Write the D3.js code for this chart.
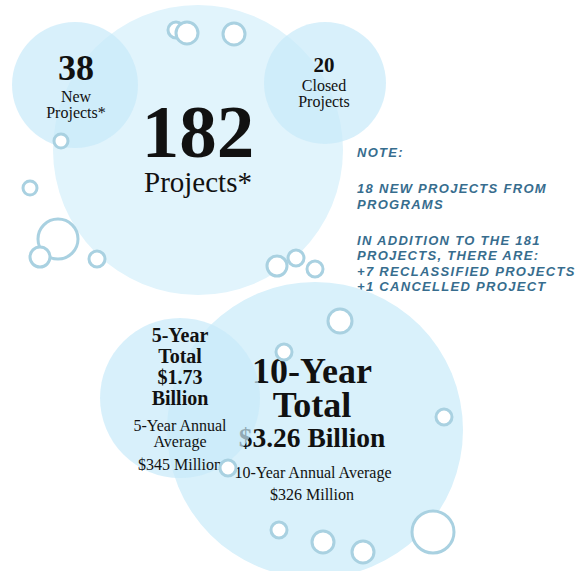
<!DOCTYPE html>
<html>
<head>
<meta charset="utf-8">
<script src="https://cdn.jsdelivr.net/npm/d3@7"></script>
<style>
  body { margin: 0; background: #fff; }
  svg { display: block; }
  .serif { font-family: "Liberation Serif", "DejaVu Serif", serif; fill: #111; }
  .note { font-family: "Liberation Sans", Arial, sans-serif; font-style: italic; font-weight: bold; fill: #376d8e; }
</style>
</head>
<body>
<svg class="chart" width="587" height="571"></svg>
<script>
// values
const projectCounts = [182, 38, 20];
const projectLabels = ["Projects*", "New|Projects*", "Closed|Projects"];
const fiveYear = { total: "$1.73", avg: "$345 Million" };
const tenYear = { total: "$3.26 Billion", avg: "$326 Million" };
const noteLines = ["NOTE:", "", "18 NEW PROJECTS FROM", "PROGRAMS", "",
  "IN ADDITION TO THE 181", "PROJECTS, THERE ARE:", "+7 RECLASSIFIED PROJECTS", "+1 CANCELLED PROJECT"];

// layout (x, y, r) of the big circles
const projectCircles = [[198, 150, 145], [75, 85, 63], [325, 83, 61]];
const costCircles = [[315, 430, 148], [180, 398, 80]];
// decorative bubbles
const bubbles = [
  [176, 30, 8], [187, 33, 11], [234, 34, 11], [61, 141, 7], [30, 188, 7],
  [58, 239, 20], [40, 257, 10], [97, 259, 8], [277, 266, 10], [296, 258, 8],
  [315, 269, 8], [340, 321, 12], [284, 352, 8], [228, 468, 8], [444, 417, 8],
  [279, 530, 8], [323, 542, 11], [363, 552, 11], [433, 532, 21]
];

const svg = d3.select(".chart");

// project circles
svg.selectAll(".pc")
  .data(projectCircles)
  .enter().append("circle")
  .attr("class", "pc")
  .attr("cx", d => d[0]).attr("cy", d => d[1]).attr("r", d => d[2])
  .attr("fill", (d, i) => i === 0 ? "#e1f4fc" : "#c8eaf9")
  .attr("fill-opacity", (d, i) => i === 0 ? 1 : 0.7);

const g182 = svg.append("g").attr("class", "serif").attr("text-anchor", "middle");
g182.append("text").attr("x", 198).attr("y", 157)
  .attr("font-size", 75).attr("font-weight", "bold").text(projectCounts[0]);
g182.append("text").attr("x", 198).attr("y", 192)
  .attr("font-size", 29).text(projectLabels[0]);

const g38 = svg.append("g").attr("class", "serif").attr("text-anchor", "middle");
g38.append("text").attr("x", 76).attr("y", 80)
  .attr("font-size", 36).attr("font-weight", "bold").text(projectCounts[1]);
projectLabels[1].split("|").forEach((s, i) => {
  g38.append("text").attr("x", 76).attr("y", 102 + i * 16).attr("font-size", 16).text(s);
});

const g20 = svg.append("g").attr("class", "serif").attr("text-anchor", "middle");
g20.append("text").attr("x", 324).attr("y", 72)
  .attr("font-size", 21).attr("font-weight", "bold").text(projectCounts[2]);
projectLabels[2].split("|").forEach((s, i) => {
  g20.append("text").attr("x", 324).attr("y", 91 + i * 16).attr("font-size", 16).text(s);
});

// note
const note = svg.append("g").attr("class", "note");
let ny = 157, gap = false;
noteLines.forEach((s, i) => {
  if (s === "") { gap = true; return; }
  if (i > 0) ny += gap ? 36 : 15.6;
  gap = false;
  note.append("text").attr("x", 357).attr("y", ny)
    .attr("font-size", 13).attr("letter-spacing", 1.3).text(s);
});

// 10-year
svg.append("circle")
  .attr("cx", costCircles[0][0]).attr("cy", costCircles[0][1]).attr("r", costCircles[0][2])
  .attr("fill", "#d9f1fb");
const g10 = svg.append("g").attr("class", "serif").attr("text-anchor", "middle");
g10.append("text").attr("x", 312).attr("y", 383).attr("font-size", 36).attr("font-weight", "bold").text("10-Year");
g10.append("text").attr("x", 312).attr("y", 417).attr("font-size", 36).attr("font-weight", "bold").text("Total");
g10.append("text").attr("x", 312).attr("y", 447).attr("font-size", 27.5).attr("font-weight", "bold").text(tenYear.total);
g10.append("text").attr("x", 313).attr("y", 478).attr("font-size", 16).text("10-Year Annual Average");
g10.append("text").attr("x", 312).attr("y", 500).attr("font-size", 16).text(tenYear.avg);

// 5-year
svg.append("circle")
  .attr("cx", costCircles[1][0]).attr("cy", costCircles[1][1]).attr("r", costCircles[1][2])
  .attr("fill", "#c8eaf9").attr("fill-opacity", 0.7);
const g5 = svg.append("g").attr("class", "serif").attr("text-anchor", "middle");
["5-Year", "Total", fiveYear.total, "Billion"].forEach((s, i) => {
  g5.append("text").attr("x", 180).attr("y", 342 + i * 21).attr("font-size", 20).attr("font-weight", "bold").text(s);
});
g5.append("text").attr("x", 180).attr("y", 431).attr("font-size", 16).text("5-Year Annual");
g5.append("text").attr("x", 180).attr("y", 447).attr("font-size", 16).text("Average");
g5.append("text").attr("x", 180).attr("y", 470).attr("font-size", 16).text(fiveYear.avg);

// bubbles
svg.selectAll(".bubble")
  .data(bubbles)
  .enter().append("circle")
  .attr("class", "bubble")
  .attr("cx", d => d[0]).attr("cy", d => d[1]).attr("r", d => d[2])
  .attr("fill", "#fff")
  .attr("stroke", "#a9d1e1")
  .attr("stroke-width", 3);
</script>
</body>
</html>
